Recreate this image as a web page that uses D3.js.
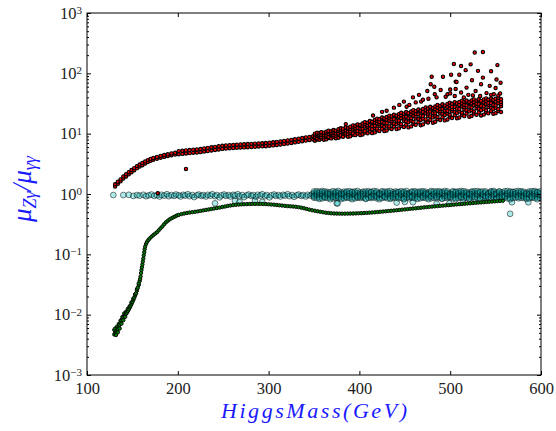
<!DOCTYPE html>
<html>
<head>
<meta charset="utf-8">
<script src="https://cdn.jsdelivr.net/npm/d3@7"></script>
<style>
  body { margin: 0; background: #fff; }
  text { font-family: "Liberation Serif", "DejaVu Serif", serif; }
</style>
</head>
<body>
<div id="chart"></div>
<script>
// tick values
const xTicks = [100, 200, 300, 400, 500, 600];
const yExponents = [-3, -2, -1, 0, 1, 2, 3];

// red series, thin part: [mass, value, value]
const redLow = [
  [131,1.33,1.45],[134,1.48,1.6],[137,1.62,1.75],[140,1.8,1.95],[143,1.95,2.12],
  [146,2.12,2.3],[149,2.3,2.5],[152,2.48,2.68],[155,2.68,2.9],[158,2.85,3.08],
  [161,3.0,3.26],[164,3.2,3.45],[167,3.4,3.65],[170,3.55,3.82],[173,3.7,3.96],
  [177,3.85,4.12],[181,4.0,4.28],[185,4.12,4.42],[189,4.25,4.55],[193,4.38,4.7],
  [197,4.5,4.82],[201,4.56,5.14],[205,4.62,5.2],[209,4.69,5.28],[213,4.75,5.35],
  [217,4.81,5.42],[221,4.87,5.49],[225,4.94,5.57],[229,5.05,5.69],[233,5.15,5.81],
  [237,5.26,5.94],[241,5.37,6.05],[245,5.48,6.18],[249,5.59,6.31],[253,5.66,6.38],
  [257,5.72,6.44],[261,5.78,6.52],[265,5.83,6.57],[269,5.88,6.62],[273,5.92,6.68],
  [277,5.97,6.73],[281,6.02,6.78],[285,6.06,6.84],[289,6.11,6.89],[293,6.16,6.94],
  [297,6.2,7.0],[301,6.3,7.1],[305,6.39,7.21],[309,6.49,7.31],[313,6.6,7.45],
  [317,6.73,7.59],[321,6.86,7.74],[325,7.0,7.9],[329,7.17,8.08],[333,7.33,8.27],
  [337,7.5,8.46],[341,7.67,8.65],[345,7.85,8.85],[349,8.0,9.1]
];

// red series, wide part: [mass, values...]
const redBand = [
  [351,7.65,8.4,8.8,9.45,10.0],[353.5,8.0,8.3,9.3,9.9,10.4],[356,7.9,8.8,9.2,9.6,10.2],
  [358,8.3,8.8,9.6,10.4,10.6],[361,7.95,8.7,9.4,10.2,10.4],[363.5,8.06,8.9,9.35,10.1,10.8],
  [366,8.5,8.8,9.9,10.6,11.2],[369,8.35,9.4,9.85,10.3,11.0],[371.5,8.8,9.4,10.35,11.3,11.5],
  [374,8.4,9.25,10.05,11.0,11.25],[377,8.57,9.6,10.1,11.05,11.85],[379.5,9.05,9.4,10.75,11.56,12.3],
  [382,8.9,10.15,10.7,11.2,12.1],[385,9.4,10.1,11.3,12.4,12.7],[387.5,8.85,9.9,10.9,12.05,12.35],
  [390,9.04,10.25,10.9,12.0,13.0],[393,9.6,10.1,11.75,12.8,13.7],[395.5,9.45,11.1,11.75,12.4,13.5],
  [398,10.05,11.0,12.45,13.9,14.25],[401,9.45,10.8,12.1,13.6,13.95],[403.5,9.7,11.25,12.1,13.5,14.7],
  [406,10.4,11.0,13.1,14.35,15.5],[409,10.15,12.15,13.0,13.8,15.2],[411.5,10.95,12.1,14.0,15.75,16.2],
  [414,10.2,11.85,13.4,15.3,15.75],[417,10.5,12.4,13.5,15.3,16.8],[419.5,11.35,12.1,14.7,16.3,17.7],
  [422,11.1,13.55,14.6,15.65,17.3],[425,12.05,13.5,15.7,17.9,18.5],[427.5,11.0,13.0,15.0,17.25,17.8],
  [430,11.3,13.6,14.9,17.1,18.9],[433,12.35,13.2,16.3,18.2,19.9],[435.5,11.95,14.9,16.1,17.4,19.3],
  [438,13.1,14.7,17.4,20.0,20.6],[441,11.9,14.25,16.5,19.1,19.8],[443.5,12.25,15.0,16.4,19.0,21.1],
  [446,13.4,14.4,18.0,20.2,22.2],[449,12.9,16.3,17.8,19.2,21.5],[451.5,14.1,16.0,19.1,22.0,22.8],
  [454,12.7,15.4,18.0,21.1,21.9],[457,13.2,16.3,18.0,20.9,23.3],[459.5,14.6,15.7,19.8,22.2,24.5],
  [462,14.0,17.8,19.4,21.1,23.6],[465,15.4,17.5,21.0,24.3,25.1],[467.5,13.8,16.9,19.8,23.2,24.1],
  [470,14.25,17.75,19.6,22.9,25.6],[473,15.9,17.2,21.8,24.6,27.2],[475.5,15.3,19.6,21.4,23.2,26.1],
  [478,16.9,19.3,23.2,27.0,27.9],[481,15.2,18.6,21.9,25.7,26.6],[483.5,15.8,19.6,21.7,25.3,28.3],
  [486,17.5,18.9,24.0,27.1,29.9],[489,16.8,21.6,23.6,25.6,28.8],[491.5,18.6,21.3,25.5,29.6,30.7],
  [494,16.6,20.4,24.0,28.2,29.2],[497,17.2,21.5,23.8,27.8,31.1],[499.5,19.1,20.6,26.2,29.6,32.7],
  [502,18.2,23.4,25.6,27.8,31.3],[505,20.1,23.0,27.7,32.2,33.3],[507.5,18.0,22.1,26.0,30.6,31.7],
  [510,18.5,23.2,25.6,29.9,33.5],[513,20.5,22.2,28.2,31.9,35.2],[515.5,19.5,25.1,27.5,29.9,33.6],
  [518,21.5,24.5,29.4,34.2,35.4],[521,19.1,23.4,27.5,32.3,33.5],[523.5,19.6,24.5,27.1,31.7,35.5],
  [526,21.5,23.3,29.6,33.5,37.0],[529,20.5,26.4,28.9,31.3,35.3],[531.5,22.5,25.7,30.8,35.8,37.1],
  [534,20.0,24.5,28.8,33.8,35.0],[537,20.7,25.7,28.4,33.0,37.0],[539.5,22.6,24.4,30.9,34.8,38.4],
  [542,21.7,27.6,30.1,32.5,36.5],[545,23.7,26.9,32.0,37.0,38.3],[547.5,21.3,25.7,30.0,34.9,36.2],
  [550,21.9,26.8,29.4,34.0,37.9],[553,23.8,25.6,31.9,35.7,39.2],[556,22.8,28.5,30.9,33.4,37.2]
];

// red scattered points above the band
const redOut = [
  [178,1.03],[209,2.6],[385,14.4],[415,20],[425,23],[430,24],[438,27],[444,30],[449,34],
  [452,28],[455,30],[459,40],[462,33],[465.6,44],[468,34],[470,36.5],[474.8,51],[476,38],
  [478.5,66],[479.6,88],[482.5,60],[483,45],[485,40],[489.5,53],[492,88],[495,41],[497,45],
  [500,54],[500,46.5],[501,95],[504,143],[505,42],[506,73],[506,55],[507,72],[510,95],
  [512,132],[512,48],[515,40],[517,113],[518,58],[520,44],[522.5,141],[524,77],[525,43],
  [527,221],[528,51],[530.6,110],[533,42],[534,66],[536,226],[536,85],[540,47],[543.5,62],
  [545,108],[545,44],[548,45],[550,57],[551,79],[552,137],[553,43],[555,46.5],[555.5,70]
];

// cyan series, sparse part
const cyanSparse = [
  [129,0.96],[140,0.96],[146,0.97],[151,0.93],[155,0.96],[158,0.94],[162,0.97],[165,0.92],
  [168,0.95],[171,0.98],[174,0.93],[177,0.96],[180,0.91],[182,0.97],[185,0.94],[188,0.99],
  [190,0.92],[193,0.96],[196,0.93],[198,0.98],[201,0.95],[203,0.91],[206,0.97],[208,0.94],
  [211,0.99],[213,0.92],[216,0.96],[218,0.89],[221,0.95],[223,0.98],[226,0.93],[228,0.96],
  [231,0.91],[233,0.97],[236,0.94],[238,0.99],[241,0.92],[243,0.96],[246,0.88],[248,0.95],
  [251,0.98],[253,0.93],[256,0.96],[258,0.91],[261,0.97],[263,0.94],[266,0.99],[268,0.92],
  [271,0.96],[273,0.89],[276,0.95],[278,0.98],[281,0.93],[283,0.96],[286,0.9],[288,0.97],
  [291,0.94],[293,0.99],[296,0.92],[298,0.96],[301,0.88],[303,0.95],[306,0.98],[308,0.93],
  [311,0.96],[313,0.91],[316,0.97],[318,0.94],[321,0.99],[323,0.92],[326,0.96],[328,0.9],
  [331,0.95],[333,0.98],[336,0.93],[338,0.96],[341,0.91],[343,0.97],[346,0.94],[348,0.99],
  [241,0.70],[263,0.77],[268,0.74],[285,0.77],[293,0.74],[375,0.70],[376,0.70],[441,0.72],
  [450,0.74],[459,0.73],[485,0.69],[499,0.70],[514,0.73],[566,0.47],[568,0.73],[586,0.73]
];

// cyan series, dense part: [mass, values...]
const cyanBand = [
  [350,1.03,0.95,0.87,1.1,0.91],[353,1.05,0.94,0.86,0.99,1.11],[356,1.02,0.96,0.88,1.09,0.83],
  [359,1.06,0.93,0.85,1.0,1.12],[362,1.04,0.97,0.87,1.1,0.9],[365,1.03,0.94,0.86,1.08,0.99],
  [368,1.07,0.95,0.88,1.0,0.82],[371,1.02,0.96,0.85,1.11,0.9],[374,1.05,0.93,0.87,0.99,1.09],
  [377,1.04,0.97,0.86,1.12,0.91],[380,1.06,0.95,0.88,1.0,0.83],[383,1.03,0.94,0.85,1.09,0.99],
  [386,1.05,0.96,0.87,1.1,0.9],[389,1.02,0.93,0.86,1.0,1.11],[392,1.07,0.97,0.88,1.08,0.82],
  [395,1.04,0.95,0.85,0.99,1.1],[398,1.03,0.94,0.87,1.12,0.9],[401,1.06,0.96,0.86,1.0,0.91],
  [404,1.05,0.93,0.88,1.09,0.99],[407,1.02,0.97,0.85,1.1,0.83],[410,1.04,0.95,0.87,1.0,1.11],
  [413,1.07,0.94,0.86,1.08,0.9],[416,1.03,0.96,0.88,0.99,1.12],[419,1.05,0.93,0.85,1.1,0.91],
  [422,1.04,0.97,0.87,1.0,0.82],[425,1.06,0.95,0.86,1.11,0.99],[428,1.02,0.94,0.88,1.09,0.9],
  [431,1.05,0.96,0.85,1.0,1.1],[434,1.03,0.93,0.87,1.12,0.83],[437,1.07,0.97,0.86,0.99,0.91],
  [440,1.04,0.95,0.88,1.1,1.0],[443,1.06,0.94,0.85,1.08,0.9],[446,1.02,0.96,0.87,1.0,1.11],
  [449,1.05,0.93,0.86,1.09,0.82],[452,1.03,0.97,0.88,1.12,0.99],[455,1.04,0.95,0.85,1.0,0.9],
  [458,1.07,0.94,0.87,1.1,0.91],[461,1.05,0.96,0.86,0.99,1.11],[464,1.02,0.93,0.88,1.08,0.83],
  [467,1.06,0.97,0.85,1.0,1.1],[470,1.04,0.95,0.87,1.11,0.9],[473,1.03,0.94,0.86,1.09,0.99],
  [476,1.05,0.96,0.88,1.0,0.82],[479,1.07,0.93,0.85,1.12,0.91],[482,1.02,0.97,0.87,0.99,1.1],
  [485,1.04,0.95,0.86,1.1,0.9],[488,1.06,0.94,0.88,1.0,1.11],[491,1.03,0.96,0.85,1.08,0.83],
  [494,1.05,0.93,0.87,0.99,1.12],[497,1.04,0.97,0.86,1.1,0.91],[500,1.02,0.95,0.88,1.0,0.9],
  [503,1.07,0.94,0.85,1.11,0.99],[506,1.05,0.96,0.87,1.09,0.82],[509,1.03,0.93,0.86,1.0,1.1],
  [512,1.06,0.97,0.88,1.12,0.9],[515,1.04,0.95,0.85,0.99,1.11],[518,1.02,0.94,0.87,1.08,0.91],
  [521,1.05,0.96,0.86,1.0,0.83],[524,1.07,0.93,0.88,1.1,0.99],[527,1.03,0.97,0.85,1.11,0.9],
  [530,1.04,0.95,0.87,1.0,1.12],[533,1.06,0.94,0.86,1.09,0.82],[536,1.02,0.96,0.88,0.99,1.1],
  [539,1.05,0.93,0.85,1.1,0.91],[542,1.03,0.97,0.87,1.0,0.9],[545,1.04,0.95,0.86,1.08,1.11],
  [548,1.07,0.94,0.88,1.12,0.99],[551,1.05,0.96,0.85,1.0,0.83],[554,1.02,0.93,0.87,1.09,1.1],
  [557,1.06,0.97,0.86,0.99,0.9],[560,1.04,0.95,0.88,1.11,0.91],[563,1.03,0.94,0.85,1.0,1.12],
  [566,1.05,0.96,0.87,1.1,0.82],[569,1.07,0.93,0.86,1.08,0.99],[572,1.02,0.97,0.88,1.0,1.1],
  [575,1.04,0.95,0.85,1.12,0.9],[578,1.06,0.94,0.87,0.99,1.11],[581,1.03,0.96,0.86,1.09,0.91],
  [584,1.05,0.93,0.88,1.0,0.83],[587,1.04,0.97,0.85,1.1,0.99],[590,1.02,0.95,0.87,1.11,0.9],
  [593,1.07,0.94,0.86,1.0,1.12],[596,1.05,0.96,0.88,1.08,0.82],[599,1.03,0.93,0.85,0.99,1.1]
];

// green series: [mass, value(s)]
const greenRows = [
  [130,0.0047,0.0056],[131,0.005,0.0059],[132,0.0052,0.0046],[133,0.0055,0.0063],[134,0.0058,0.0051],
  [135,0.0063,0.007],[136,0.0068,0.0059],[137,0.0074,0.008],[138,0.008,0.0071],[139,0.0086,0.0092],
  [140,0.009,0.0081],[141,0.0096,0.0105],[142,0.01,0.0092],[143,0.0103,0.0112],[144,0.0108],
  [145,0.0115,0.0125],[146,0.0122],[147,0.013,0.0138],[148,0.014],[149,0.015,0.016],[150,0.0162],
  [151,0.0175,0.0185],[152,0.019],[153,0.0207,0.0218],[154,0.0226],[155,0.025,0.0265],[156,0.028],
  [157,0.031,0.033],[158,0.036],[158.5,0.039],[159,0.043],[159.5,0.049],[160,0.055],[160.5,0.061],
  [161,0.068],[161.5,0.076],[162,0.085],[162.5,0.096],[163,0.108],[163.5,0.121],[164,0.134],
  [165,0.148],[166,0.16],[167.5,0.172],[169,0.183],[171,0.196],[173,0.208],[175,0.22],[177,0.232],
  [179,0.25],[181,0.27],[183,0.29],[185,0.315],[187,0.34],[189,0.36],[191,0.38],[193,0.395],
  [195,0.41],[197,0.425],[199,0.44],[201,0.45],[204,0.464],[207,0.475],[210,0.485],[213,0.493],
  [216,0.5],[219,0.507],[222,0.515],[225,0.525],[228,0.535],[231,0.545],[234,0.555],[237,0.565],
  [240,0.575],[243,0.585],[246,0.595],[249,0.61],[252,0.62],[255,0.635],[258,0.645],[261,0.655],
  [264,0.662],[267,0.668],[270,0.673],[273,0.677],[276,0.68],[279,0.683],[282,0.685],[285,0.686],
  [288,0.686],[291,0.685],[294,0.683],[297,0.68],[300,0.675],[303,0.67],[306,0.665],[309,0.658],
  [312,0.65],[315,0.643],[318,0.636],[321,0.63],[324,0.625],[327,0.62],[330,0.613],[333,0.605],
  [336,0.594],[339,0.58],[342,0.565],[345,0.55],[348,0.538],[351,0.527],[354,0.517],[357,0.507],
  [360,0.498],[363,0.49],[366,0.484],[369,0.479],[372,0.476],[375,0.474],[378,0.473],[381,0.472],
  [384,0.472],[387,0.473],[390,0.474],[393,0.475],[396,0.477],[399,0.479],[402,0.481],[405,0.484],
  [408,0.487],[411,0.49],[414,0.494],[417,0.498],[420,0.502],[423,0.507],[426,0.512],[429,0.517],
  [432,0.522],[435,0.527],[438,0.532],[441,0.538],[444,0.544],[447,0.55],[450,0.556],[453,0.562],
  [456,0.568],[459,0.574],[462,0.58],[465,0.587],[468,0.593],[471,0.6],[474,0.606],[477,0.612],
  [480,0.618],[483,0.624],[486,0.63],[489,0.636],[492,0.642],[495,0.648],[498,0.654],[501,0.66],
  [504,0.666],[507,0.672],[510,0.678],[513,0.684],[516,0.69],[519,0.696],[522,0.702],[525,0.708],
  [528,0.714],[531,0.72],[534,0.726],[537,0.732],[540,0.738],[543,0.744],[546,0.75],[549,0.756],
  [552,0.762],[555,0.768],[558,0.774]
];

function flatRows(rows) {
  return rows.flatMap(r => r.slice(1).map(v => ({ x: r[0], y: v })));
}
const redPts = flatRows(redLow).concat(flatRows(redBand), redOut.map(d => ({ x: d[0], y: d[1] })));
const cyanPts = cyanSparse.map(d => ({ x: d[0], y: d[1] })).concat(flatRows(cyanBand));
const greenPts = flatRows(greenRows);

const W = 556, H = 431;
const margin = { top: 13, right: 15, bottom: 56, left: 87 };
const width = W - margin.left - margin.right;   // 454
const height = H - margin.top - margin.bottom;  // 362

const svg = d3.select("#chart").append("svg")
  .attr("width", W)
  .attr("height", H);

const g = svg.append("g")
  .attr("transform", `translate(${margin.left},${margin.top})`);

const x = d3.scaleLinear().domain([100, 600]).range([0, width]);
const y = d3.scaleLog().domain([1e-3, 1e3]).range([height, 0]);

g.append("clipPath").attr("id", "clip")
  .append("rect").attr("width", width).attr("height", height);

const plot = g.append("g").attr("clip-path", "url(#clip)");

// cyan points
plot.append("g").selectAll("circle")
  .data(cyanPts).enter().append("circle")
  .attr("cx", d => x(d.x))
  .attr("cy", d => y(d.y))
  .attr("r", 2.9)
  .attr("fill", "#00bfbf")
  .attr("fill-opacity", 0.32)
  .attr("stroke", "#000")
  .attr("stroke-opacity", 0.5)
  .attr("stroke-width", 1);

// green points
plot.append("g").selectAll("circle")
  .data(greenPts).enter().append("circle")
  .attr("cx", d => x(d.x))
  .attr("cy", d => y(d.y))
  .attr("r", 1.7)
  .attr("fill", "#008000")
  .attr("stroke", "#000")
  .attr("stroke-width", 0.9);

// red points
plot.append("g").selectAll("circle")
  .data(redPts).enter().append("circle")
  .attr("cx", d => x(d.x))
  .attr("cy", d => y(d.y))
  .attr("r", 1.65)
  .attr("fill", "#ff0000")
  .attr("stroke", "#000")
  .attr("stroke-width", 1.1);

// ticks
const majors = yExponents.map(e => Math.pow(10, e));
const minors = [];
yExponents.slice(0, -1).forEach(e => {
  for (let k = 2; k <= 9; k++) minors.push(k * Math.pow(10, e));
});

g.append("g")
  .attr("transform", `translate(0,${height})`)
  .call(d3.axisBottom(x).tickValues(xTicks).tickSizeInner(-4).tickSizeOuter(0).tickPadding(7)
    .tickFormat(d3.format("d")));

g.append("g")
  .call(d3.axisTop(x).tickValues(xTicks).tickSizeInner(-4).tickSizeOuter(0).tickFormat(""));

g.append("g")
  .call(d3.axisLeft(y).tickValues(majors).tickSizeInner(-4).tickSizeOuter(0).tickPadding(5)
    .tickFormat(""))
  .selectAll(".tick text")
  .each(function (d) {
    const e = Math.round(Math.log10(d));
    const t = d3.select(this);
    t.append("tspan").text("10");
    t.append("tspan").attr("dy", "-0.45em").attr("font-size", "11px")
      .text(e < 0 ? "\u2212" + (-e) : e);
  });

g.append("g")
  .call(d3.axisLeft(y).tickValues(minors).tickSizeInner(-2).tickSizeOuter(0).tickFormat(""));

g.append("g")
  .attr("transform", `translate(${width},0)`)
  .call(d3.axisRight(y).tickValues(majors).tickSizeInner(-4).tickSizeOuter(0).tickFormat(""));

g.append("g")
  .attr("transform", `translate(${width},0)`)
  .call(d3.axisRight(y).tickValues(minors).tickSizeInner(-2).tickSizeOuter(0).tickFormat(""));

g.selectAll(".domain").remove();
g.selectAll(".tick line").attr("stroke", "#000");
g.selectAll(".tick text")
  .attr("fill", "#222")
  .style("font-family", "'Liberation Serif', serif")
  .style("font-size", "16.5px");

// frame
g.append("rect")
  .attr("width", width)
  .attr("height", height)
  .attr("fill", "none")
  .attr("stroke", "#000")
  .attr("stroke-width", 1);

// axis titles
svg.append("text")
  .attr("x", margin.left + width / 2)
  .attr("y", 418)
  .attr("text-anchor", "middle")
  .attr("fill", "#1a1aff")
  .style("font-style", "italic")
  .style("font-size", "22px")
  .attr("textLength", 186)
  .attr("lengthAdjust", "spacing")
  .text("HiggsMass(GeV)");

const yl = svg.append("text")
  .attr("transform", "translate(31,189) rotate(-90)")
  .attr("text-anchor", "middle")
  .attr("fill", "#1a1aff")
  .style("font-style", "italic")
  .style("font-size", "27px");
yl.append("tspan").text("\u03bc");
yl.append("tspan").attr("dy", 5).style("font-size", "18px").text("Z\u03b3");
yl.append("tspan").attr("dy", -5).text("/\u03bc");
yl.append("tspan").attr("dy", 5).style("font-size", "18px").text("\u03b3\u03b3");
</script>
</body>
</html>
